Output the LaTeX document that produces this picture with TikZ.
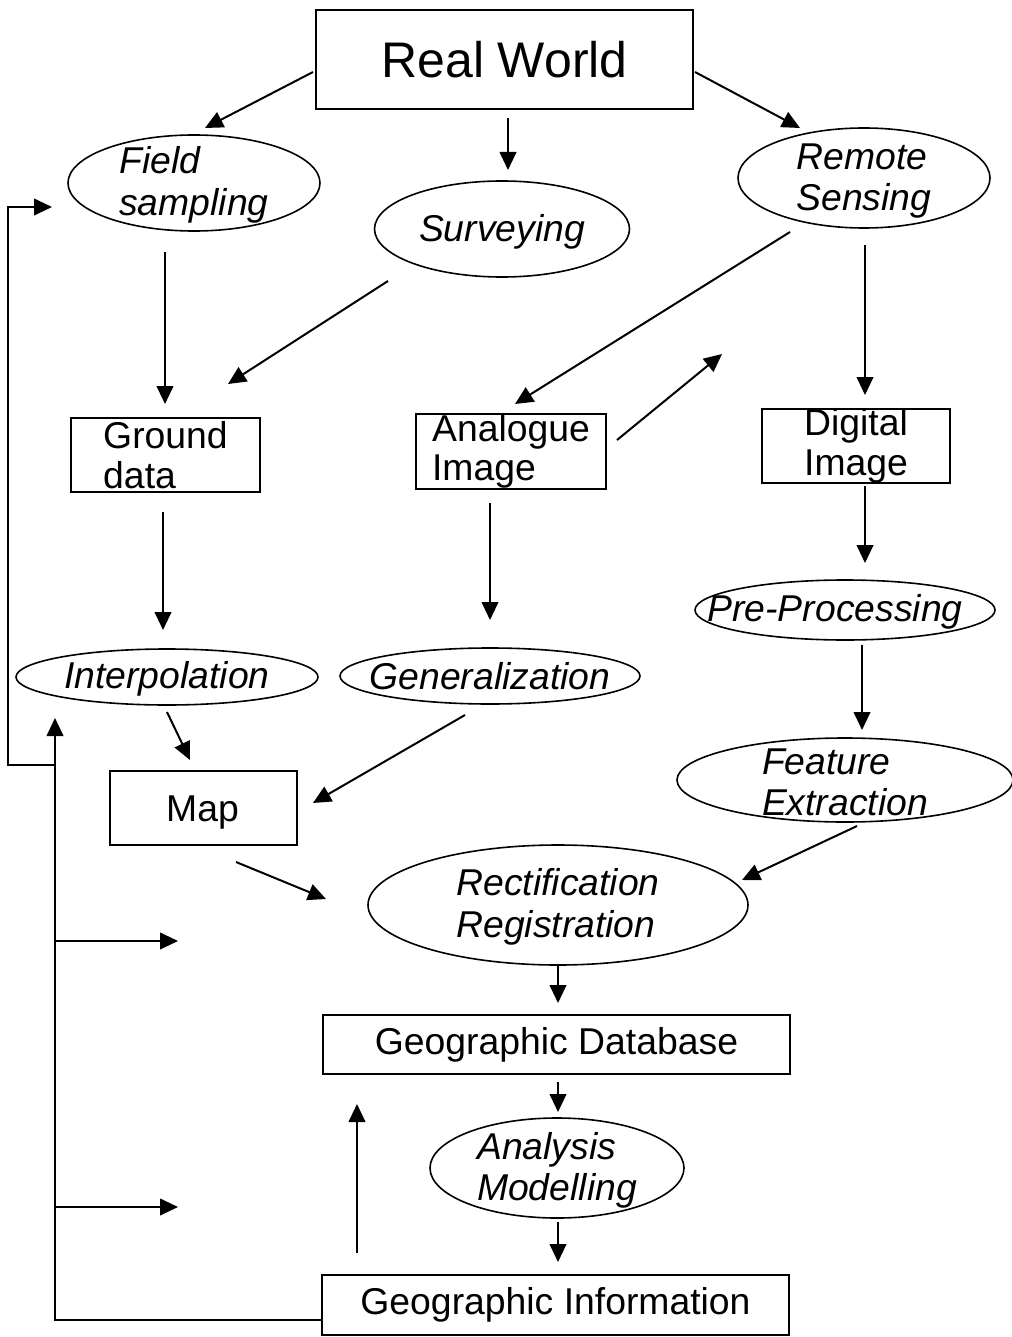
\documentclass[tikz,border=0pt]{standalone}
\usepackage{fontspec}
\setmainfont{Liberation Sans}
\usetikzlibrary{arrows.meta,calc,shapes.geometric}
\begin{document}
\begin{tikzpicture}[x=0.75pt,y=-0.75pt,
  box/.style={draw, line width=1.5pt, rectangle, inner sep=0pt, align=left, font=\fontsize{28}{29.5}\selectfont},
  ell/.style={draw, line width=1.2pt, ellipse, inner sep=0pt},
  etxt/.style={align=left, inner sep=0pt, font=\fontsize{28}{31}\selectfont\itshape},
  arr/.style={line width=1.5pt, -{Triangle[length=13.5pt,width=12.5pt]}},
  fbl/.style={line width=1.5pt}]
\useasboundingbox (0,0) rectangle (1012,1337);

% nodes
\node[box, minimum width=282.75pt, minimum height=74.25pt, font=\fontsize{37.5}{40}\selectfont] (rw) at (504.5,59.5) {Real World};
\node[ell, minimum width=189pt, minimum height=72pt] (fs) at (194,183) {};
\node[etxt] (fst) at ($(fs)+(0,2)$) {Field\\sampling};
\node[ell, minimum width=191.25pt, minimum height=72pt] (sv) at (502,229) {};
\node[etxt] (svt) at ($(sv)+(0,3)$) {Surveying};
\node[ell, minimum width=189pt, minimum height=75pt] (rs) at (864,178) {};
\node[etxt] (rst) at ($(rs)+(0,3)$) {Remote\\Sensing};

\node[box, minimum width=141.75pt, minimum height=55.5pt] (gd) at (165.5,455) {Ground\\data};
\node[box, minimum width=142.5pt, minimum height=56.25pt] (ai) at (511,451.5) {Analogue\\Image};
\node[box, minimum width=141pt, minimum height=55.5pt] (di) at (856,446) {Digital\\Image};

\node[ell, minimum width=226.5pt, minimum height=42pt] (ip) at (167,677) {};
\node[etxt] (ipt) at ($(ip)+(0,2)$) {Interpolation};
\node[ell, minimum width=225pt, minimum height=42pt] (ge) at (490,676) {};
\node[etxt] (get) at (ge) {Generalization};
\node[ell, minimum width=225pt, minimum height=45pt] (pp) at (845,610) {};
\node[etxt] (ppt) at ($(pp)+(-10,2)$) {Pre-Processing};
\node[ell, minimum width=252pt, minimum height=63pt] (fe) at (845,780) {};
\node[etxt] (fet) at ($(fe)+(0,2)$) {Feature\\Extraction};

\node[box, minimum width=140.25pt, minimum height=55.5pt] (mp) at (203.5,808) {};
\node[inner sep=0pt, font=\fontsize{28}{30}\selectfont] (mpt) at ($(mp)+(-1,5)$) {Map};
\node[ell, minimum width=285pt, minimum height=90pt] (rr) at (558,905) {};
\node[etxt] (rrt) at ($(rr)+(0,2)$) {Rectification\\Registration};
\node[box, minimum width=350.25pt, minimum height=44.25pt] (gdb) at (556.5,1044.5) {Geographic Database};
\node[ell, minimum width=190.5pt, minimum height=75pt] (am) at (557,1168) {};
\node[etxt] (amt) at ($(am)+(0,2)$) {Analysis\\Modelling};
\node[box, minimum width=350.25pt, minimum height=45pt] (gi) at (555.5,1305) {Geographic Information};

% arrows
\draw[arr] ($(rw)+(-191.5,12.5)$) -- ($(fs)+(11,-55)$);
\draw[arr] ($(rw)+(3.5,58.5)$) -- ($(sv)+(6,-59)$);
\draw[arr] ($(rw)+(190.5,12.5)$) -- ($(rs)+(-64,-50)$);
\draw[arr] ($(fs)+(-29,69)$) -- ($(gd)+(-0.5,-51)$);
\draw[arr] ($(sv)+(-114,52)$) -- ($(gd)+(62.5,-71)$);
\draw[arr] ($(rs)+(-74,54)$) -- ($(ai)+(4,-47.5)$);
\draw[arr] ($(rs)+(1,67)$) -- ($(di)+(9,-51)$);
\draw[arr] ($(ai)+(106,-11.5)$) -- ($(ai)+(211,-97.5)$);
\draw[arr] ($(gd)+(-2.5,57)$) -- ($(ip)+(-4,-47)$);
\draw[arr] ($(ai)+(-21,51.5)$) -- ($(ge)+(0,-56)$);
\draw[arr] ($(di)+(9,40)$) -- ($(pp)+(20,-47)$);
\draw[arr] ($(pp)+(17,35)$) -- ($(fe)+(17,-50)$);
\draw[arr] ($(ip)+(0,35)$) -- ($(mp)+(-13.5,-48)$);
\draw[arr] ($(ge)+(-25,39)$) -- ($(mp)+(109.5,-5)$);
\draw[arr] ($(mp)+(32.5,54)$) -- ($(rr)+(-232,-6)$);
\draw[arr] ($(fe)+(12,46)$) -- ($(rr)+(184,-25)$);
\draw[arr] ($(rr)+(0,59)$) -- ($(gdb)+(1.5,-41.5)$);
\draw[arr] ($(gdb)+(1.5,37.5)$) -- ($(am)+(1,-56)$);
\draw[arr] ($(am)+(1,54)$) -- ($(gi)+(2.5,-43)$);
\draw[arr] ($(gi)+(-198.5,-52)$) -- ($(gdb)+(-199.5,59.5)$);

% feedback lines
\draw[arr] ($(gi.west)+(0,15)$) -| ($(ip)+(-112,41)$);
\draw[arr] ($(mp)+(-148.5,-43)$) -- ++(-47,0) |- ($(fs)+(-142,24)$);
\draw[arr] ($(rr)+(-503,36)$) -- ($(rr)+(-380,36)$);
\draw[arr] ($(am)+(-502,39)$) -- ($(am)+(-379,39)$);
\end{tikzpicture}
\end{document}
